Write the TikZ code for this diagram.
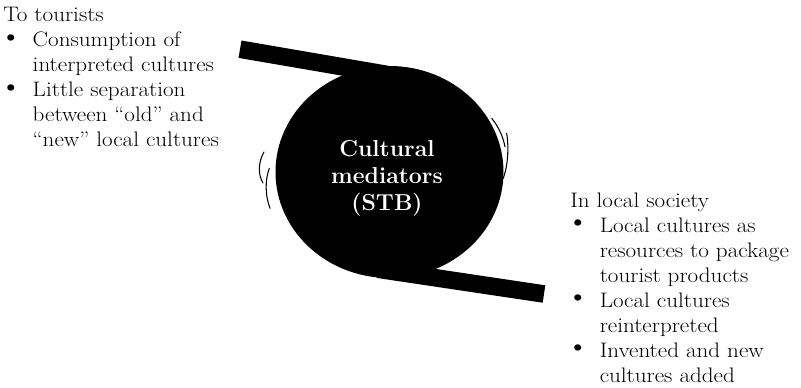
\documentclass[tikz,border=0pt]{standalone}
\usepackage{graphicx}
\usetikzlibrary{shapes.geometric}
\newcommand{\bigbul}{\hspace*{-2.5pt}\raisebox{0.8pt}{\smash{\scalebox{1.35}{\textbullet}}}}
\begin{document}
\begin{tikzpicture}[x=0.75pt,y=-0.75pt,
  band/.style={line width=13.2pt, line cap=butt},
  blob/.style={ellipse, fill=black, draw=none, minimum width=171pt, minimum height=159pt, inner sep=0pt},
  swish/.style={line width=0.8pt, line cap=round},
  txt/.style={anchor=base west, inner sep=0pt, font=\fontsize{15.75}{18.75}\selectfont},
  ctxt/.style={anchor=base, inner sep=0pt, text=white, font=\fontsize{17.3}{20.25}\selectfont\bfseries}]
\useasboundingbox (0,0) rectangle (801,387);
% central mediator blob
\node[blob] (med) at (389.5,172) {};
\coordinate (tl) at (240,49.2);
\coordinate (tlend) at (400,76.7);
\coordinate (br) at (544,294);
\coordinate (brend) at (378,269.2);
\draw[band] (tl) -- (tlend);
\draw[band] (br) -- (brend);
% motion marks
\draw[swish] (264,152) .. controls (258,162) and (258,175) .. (263,183);
\draw[swish] (269.3,168.3) .. controls (265,180) and (265,195) .. (270,208.3);
\draw[swish] (491.7,118.3) .. controls (498,126) and (503,136) .. (505,146.7);
\draw[swish] (506.7,133.3) .. controls (509,148) and (508,165) .. (503.3,178.3);
% labels
\node[ctxt] (lbl) at (387,156) {\begin{tabular}[t]{@{}c@{}}Cultural\\ mediators\\ (STB)\end{tabular}};
\node[txt] (tour) at (3,21.5) {\scalebox{1.1}[1]{\begin{tabular}[t]{@{}p{20.1pt}@{}l@{}}
\multicolumn{2}{@{}l@{}}{To tourists}\\
\bigbul & Consumption of\\
 & interpreted cultures\\
\bigbul & Little separation\\
 & between ``old'' and\\
 & ``new'' local cultures
\end{tabular}}};
\node[txt] (local) at (570,207) {\scalebox{1.1}[1]{\begin{tabular}[t]{@{}p{20.1pt}@{}l@{}}
\multicolumn{2}{@{}l@{}}{In local society}\\
\bigbul & Local cultures as\\
 & resources to package\\
 & tourist products\\
\bigbul & Local cultures\\
 & reinterpreted\\
\bigbul & Invented and new\\
 & cultures added
\end{tabular}}};
\end{tikzpicture}
\end{document}
